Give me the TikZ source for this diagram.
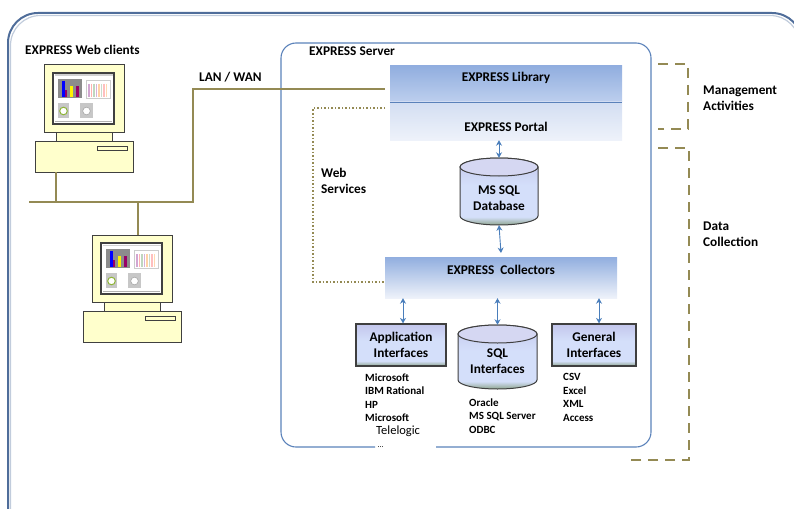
\documentclass[tikz,border=0pt]{standalone}
\usepackage{fontspec}
\setmainfont{Carlito}
\usetikzlibrary{arrows.meta}

\definecolor{netolive}{HTML}{948A54}
\definecolor{frameblue}{HTML}{4F6D9A}
\definecolor{srvblue}{HTML}{5B82BA}
\definecolor{arrowblue}{HTML}{4A7EBB}
\definecolor{monyellow}{HTML}{FFFFCC}
\definecolor{tiertop}{HTML}{91AEDF}
\definecolor{tiermid}{HTML}{BDCFEE}
\definecolor{portaltop}{HTML}{D3DEF2}
\definecolor{tierpale}{HTML}{EEF2FA}
\definecolor{boxlav}{HTML}{C3C6EC}
\definecolor{boxlight}{HTML}{D4DFFA}
\definecolor{boxgreen}{HTML}{8FA68F}
\definecolor{edgegray}{HTML}{3F3F3F}

% lavender -> light blue -> green-grey, used by the interface boxes and cylinders
\pgfdeclareverticalshading{ifshade}{100bp}{color(0bp)=(boxgreen); color(25bp)=(boxgreen);
  color(31bp)=(boxlight); color(55bp)=(boxlight); color(75bp)=(boxlav); color(100bp)=(boxlav)}

\tikzset{
  hdr/.style={font=\bfseries\fontsize{13.3}{16}\selectfont, inner sep=0pt, align=left},
  listtxt/.style={font=\bfseries\fontsize{11}{13.4}\selectfont, inner sep=0pt, align=left},
  tier/.style={draw=none, minimum width=232pt, inner sep=0pt},
  ifbox/.style={draw=edgegray, line width=1.2pt, shading=ifshade, minimum width=90pt,
    minimum height=42pt, inner sep=0pt, align=center, font=\bfseries\fontsize{13.3}{16}\selectfont},
  cylbody/.style={draw=edgegray, line width=1pt, shading=ifshade},
  net/.style={draw=netolive, line width=2.6pt},
  webdots/.style={draw=netolive, line width=2pt, dash pattern=on 1.5pt off 2pt},
  bracket/.style={draw=netolive, line width=2.6pt, dash pattern=on 10pt off 7pt},
  biarrow/.style={draw=arrowblue, line width=0.9pt, {Stealth[length=5.5pt,width=6pt]}-{Stealth[length=5.5pt,width=6pt]}},
  pcline/.style={draw=black!75, line width=1pt},
  pics/computer/.style={code={
    \draw[pcline, fill=monyellow] (0,0) rectangle (80,67);
    \draw[pcline, fill=monyellow] (12,67) rectangle (68,76);
    \draw[pcline, fill=monyellow] (-9,76) rectangle (89,107);
    \draw[pcline, fill=monyellow] (53,81) rectangle (83,85);
    \draw[line width=1.6pt, draw=black!75, fill=white] (9,8) rectangle (70,59);
    % window title bar and status bar
    \fill[black!18] (10.5,9.5) rectangle (68.5,11);
    \draw[black!30, line width=0.5pt] (11,56.5) -- (68,56.5);
    % bar chart panel
    \fill[black!45] (14,14) rectangle (38,33);
    \fill[blue] (18,16) rectangle (20.5,32);
    \fill[violet!80!red] (21,25) rectangle (23,32);
    \fill[yellow] (26,21) rectangle (28.5,32);
    \fill[violet!80!red] (32,21) rectangle (35,32);
    % pastel bar panel
    \draw[black!20, line width=0.5pt] (42,15) rectangle (66,33);
    \foreach \xx/\cc in {45/violet!35, 47.5/red!30, 50/green!35!black!25, 52.5/violet!30, 55/orange!35,
        57.5/green!30!black!20, 60/red!25, 62.5/orange!30}
      \draw[\cc, line width=1.2pt] (\xx,19) -- (\xx,32);
    % gauges
    \fill[black!22] (14,38) rectangle (25,53);
    \draw[yellow!60!green!80!black, line width=1pt, fill=white] (19.5,46) circle[radius=3.8];
    \fill[black!22] (36,38) rectangle (49,53);
    \draw[black!35, line width=0.6pt, fill=white] (42.5,46) circle[radius=3.8];
    \coordinate (-top) at (46,0);
    \coordinate (-foot) at (12,107);
  }}
}

\begin{document}
\begin{tikzpicture}[x=1pt, y=-1pt]
\useasboundingbox (0,0) rectangle (794,508);

% outer frame, running off the page at right and bottom
\begin{scope}
  \clip (0,0) rectangle (794,508);
  \draw[frameblue!35, line width=1.2pt, rounded corners=30] (10.5,540) -- (10.5,15.5) -- (800,15.5) -- (800,540);
  \draw[frameblue, line width=2pt, rounded corners=30] (8,540) -- (8,13) -- (802,13) -- (802,540);
\end{scope}

% server frame, open where the Telelogic note sits
\draw[srvblue, line width=1.1pt, rounded corners=15]
  (375,447) -- (281,447) -- (281,43) -- (651,43) -- (651,447) -- (436,447);

% ---------------- clients and network ----------------
\pic (c1) at (44,65) {computer};
\pic (c2) at (92,235) {computer};

\coordinate (busL) at (29,202);
\coordinate (busR) at (193,202);
\coordinate (lanCorner) at (193,89);
\coordinate (lanEnd) at (385,89);

\draw[net] (c1-foot) -- (c1-foot |- busL);
\draw[net] (busL) -- (busR) -- (lanCorner) -- (lanEnd);
\draw[net] (c2-top) -- (c2-top |- busL);

\node[hdr, anchor=west] (webcl) at (25,50) {EXPRESS Web clients};
\node[hdr, anchor=west] (lanwan) at (199,77) {LAN / WAN};
\node[hdr, anchor=west] (srvlbl) at (309,51) {EXPRESS Server};

% ---------------- server tiers ----------------
\node[tier, minimum height=36pt, top color=tiertop, bottom color=tiermid,
  label={[hdr, yshift=6pt]center:EXPRESS Library}] (lib) at (506,84) {};
\node[tier, minimum height=38pt, top color=portaltop, bottom color=tierpale,
  label={[hdr, yshift=-6pt]center:EXPRESS Portal}] (portal) at (506,121) {};
\draw[srvblue, line width=0.8pt] (lib.south west) -- (lib.south east);

\node[tier, minimum height=41pt, top color=tiertop, bottom color=tierpale,
  label={[hdr, yshift=7.5pt]center:EXPRESS\ \ Collectors}] (coll) at (501,277.5) {};

% MS SQL database cylinder
\draw[cylbody] (460,167) -- (460,216) arc[start angle=180, end angle=0, x radius=39, y radius=9]
  -- (538,167) arc[start angle=0, end angle=-180, x radius=39, y radius=9] -- cycle;
\draw[edgegray, line width=1pt, fill=boxlav!70!white] (499,167) ellipse[x radius=39, y radius=9];
\node[minimum width=78pt, minimum height=67pt, inner sep=0pt,
  label={[hdr, align=center, yshift=-6.5pt]center:MS SQL\\Database}] (db) at (499,191.5) {};

% interface blocks
\node[ifbox] (app) at (401,345) {Application\\Interfaces};
\node[ifbox, minimum width=84pt] (gen) at (594,345) {General\\Interfaces};

\draw[cylbody] (458,334) -- (458,380) arc[start angle=180, end angle=0, x radius=39.5, y radius=9]
  -- (537,334) arc[start angle=0, end angle=-180, x radius=39.5, y radius=9] -- cycle;
\draw[edgegray, line width=1pt, fill=boxlav!70!white] (497.5,334) ellipse[x radius=39.5, y radius=9];
\node[minimum width=79pt, minimum height=64pt, inner sep=0pt,
  label={[hdr, align=center, yshift=-4.5pt]center:SQL\\Interfaces}] (sql) at (497.5,357) {};

% data links
\draw[biarrow] (portal.south -| db.north) -- (db.north);
\draw[biarrow] (db.south) -- (coll.south |- 0,253);
\draw[biarrow] (coll.south -| 403,0) -- (app.north -| 403,0);
\draw[biarrow] (coll.south -| sql.north) -- (sql.north);
\draw[biarrow] (coll.south -| 599,0) -- (gen.north -| 599,0);

% web services link
\coordinate (wsTop) at (385,108);
\draw[webdots] (wsTop) -- (313,108) -- (313,282) -- (coll.west |- 313,282);
\node[hdr, anchor=west] (ws) at (321,181) {Web\\Services};

% product lists
\node[listtxt, anchor=north west] (applist) at (365,373.5) {Microsoft\\IBM Rational\\HP\\Microsoft};
\node[anchor=north west, inner sep=0pt, align=left, font=\fontsize{12.5}{17}\selectfont] (tele) at (376,425.5)
  {Telelogic\\[-4pt]{\fontsize{8}{8}\selectfont\,...}};
\node[listtxt, anchor=north west] (sqllist) at (469,398.5) {Oracle\\MS SQL Server\\ODBC};
\node[listtxt, anchor=north west] (genlist) at (563,373.5) {CSV\\Excel\\XML\\Access};

% activity brackets
\draw[bracket] (658,64) -- (688,64) -- (688,129) -- (658,129);
\draw[bracket] (658,148) -- (689,148) -- (689,460) -- (626,460);
\node[hdr, anchor=west] (mgmt) at (703,98) {Management\\Activities};
\node[hdr, anchor=west] (datacol) at (703,234) {Data\\Collection};
\end{tikzpicture}
\end{document}
